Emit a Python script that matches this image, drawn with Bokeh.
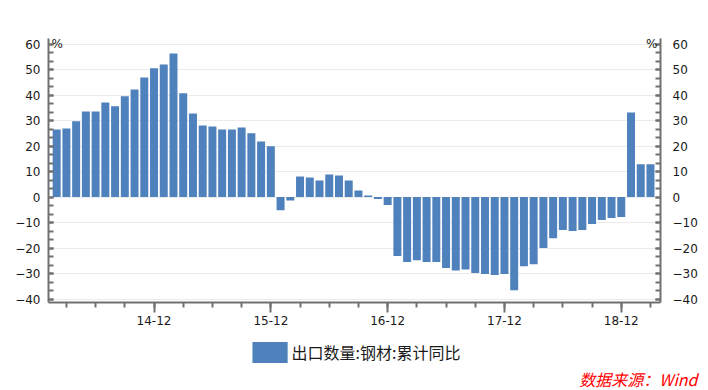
import pandas as pd
from bokeh.plotting import figure
from bokeh.layouts import column
from bokeh.models import (ColumnDataSource, Range1d, LinearAxis, SingleIntervalTicker,
                          FixedTicker, Legend, LegendItem, Label, Title)
from bokeh.embed import file_html
from bokeh.resources import INLINE

# ---- data ----
start_month = "2014-02"
values = [26.5, 26.9, 29.7, 33.6, 33.6, 37.1, 35.6, 39.5, 42.2, 46.9, 50.5,
          52.0, 56.3, 40.7, 32.8, 28.1, 27.7, 26.5, 26.5, 27.3, 25.0, 21.8, 19.9,
          -5.2, -1.3, 8.1, 7.7, 6.5, 8.9, 8.5, 6.5, 2.6, 0.65, -0.8, -3.1,
          -23.1, -25.5, -24.8, -25.5, -25.5, -27.8, -28.8, -28.4, -29.8, -30.2, -30.6, -30.2,
          -36.5, -27.1, -26.3, -20.0, -16.1, -12.9, -13.3, -12.9, -10.6, -9.0, -8.2, -7.8,
          33.2, 12.9, 12.9]
series_name = "出口数量:钢材:累计同比"
source_text = "数据来源：Wind"
unit_label = "%"

months = pd.date_range(start_month, periods=len(values), freq="MS")
month_labels = [m.strftime("%y-%m") for m in months]
xs = list(range(len(values)))
major_ticks = [i for i, m in enumerate(months) if m.month == 12]
minor_ticks = [i for i, m in enumerate(months) if m.month % 3 == 0]

BAR = "#4F81BD"
AXIS = "#707070"
TXT = "#1a1a1a"
W = 708

x0, x1 = -0.84, 62.03
y0, y1 = -41.35, 62.2

# ---------------- main chart ----------------
p = figure(width=W, height=334, output_backend="svg", toolbar_location=None,
           x_range=Range1d(x0, x1), y_range=Range1d(y0, y1),
           min_border_left=48, min_border_right=48, min_border_top=38,
           min_border_bottom=32)
p.outline_line_color = None
p.background_fill_color = "white"
p.border_fill_color = "white"

src = ColumnDataSource(dict(x=xs, top=values, label=month_labels))
r = p.vbar(x="x", top="top", bottom=0, width=0.82, source=src,
           fill_color=BAR, line_color=None)

p.xgrid.visible = False
p.ygrid.grid_line_color = "#ebebeb"
p.ygrid.grid_line_width = 1

xa = p.xaxis[0]
xa.ticker = FixedTicker(ticks=major_ticks, minor_ticks=minor_ticks)
xa.major_label_overrides = {i: month_labels[i] for i in major_ticks}
xa.axis_line_color = AXIS
xa.axis_line_width = 2
xa.major_tick_line_color = AXIS
xa.major_tick_line_width = 2
xa.minor_tick_line_color = AXIS
xa.minor_tick_line_width = 2
xa.major_tick_out = 10
xa.major_tick_in = 0
xa.minor_tick_out = 5
xa.minor_tick_in = 0
xa.major_label_standoff = 3
xa.major_label_text_font = "DejaVu Sans"
xa.major_label_text_font_size = "12px"
xa.major_label_text_color = TXT


def style_y(ax, standoff):
    ax.ticker = SingleIntervalTicker(interval=10, num_minor_ticks=3)
    ax.axis_line_color = AXIS
    ax.axis_line_width = 2
    ax.major_tick_line_color = AXIS
    ax.major_tick_line_width = 2
    ax.minor_tick_line_color = AXIS
    ax.minor_tick_line_width = 2
    ax.major_tick_in = 5
    ax.major_tick_out = 0
    ax.minor_tick_in = 5
    ax.minor_tick_out = 0
    ax.major_label_standoff = standoff
    ax.major_label_text_font = "DejaVu Sans"
    ax.major_label_text_font_size = "12px"
    ax.major_label_text_color = TXT


style_y(p.yaxis[0], 8)
ra = LinearAxis()
style_y(ra, 12)
p.add_layout(ra, "right")

p.add_layout(Label(x=x0, y=60, x_offset=3, y_offset=0, text=unit_label,
                   text_baseline="middle", text_align="left", text_font="DejaVu Sans",
                   text_font_size="12px", text_color=TXT))
p.add_layout(Label(x=x1, y=60, x_offset=-3, y_offset=0, text=unit_label,
                   text_baseline="middle", text_align="right", text_font="DejaVu Sans",
                   text_font_size="12px", text_color=TXT))

# ---------------- legend + source strip ----------------
q = figure(width=W, height=56, output_backend="svg", toolbar_location=None,
           x_range=p.x_range, y_range=Range1d(100, 110),
           min_border=0, x_axis_location=None, y_axis_location=None)
q.outline_line_color = None
q.xgrid.visible = False
q.ygrid.visible = False
q.background_fill_color = "white"
q.border_fill_color = "white"

# zero-size proxy glyph that only supplies the legend key style
key_src = ColumnDataSource(dict(x=xs[:1], top=[0]))
r_key = q.vbar(x="x", top="top", bottom=0, width=0, source=key_src,
               fill_color=BAR, line_color=None)
legend = Legend(items=[LegendItem(label=series_name, renderers=[r_key])],
                location="top_center", orientation="horizontal",
                glyph_width=44, glyph_height=26, label_standoff=0,
                label_text_font="Noto Sans CJK SC", label_text_font_size="16px",
                label_text_color=TXT, border_line_alpha=0, background_fill_alpha=0,
                padding=0, margin=5)
q.add_layout(legend, "center")

note = Title(text=source_text, align="right", offset=-37, standoff=0,
             text_color="#ff0000", text_font_style="italic",
             text_font="Noto Sans CJK SC", text_font_size="16px")
q.add_layout(note, "below")

layout = column(p, q, spacing=0)
open("out.html", "w").write(file_html(layout, INLINE))
